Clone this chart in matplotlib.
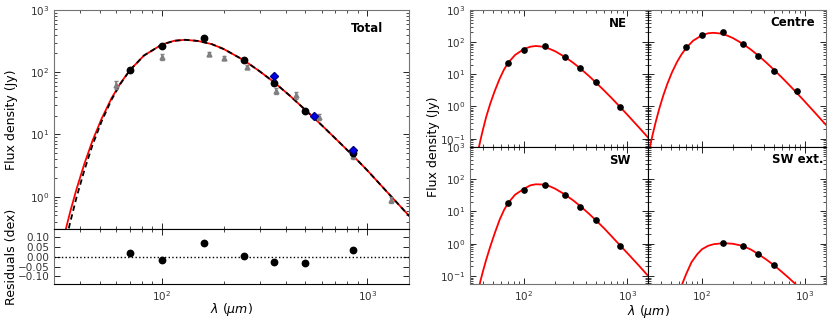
import matplotlib
matplotlib.use("Agg")
import matplotlib.pyplot as plt

# ---------------- data ----------------
# Total panel: this work (black), literature (grey), alternative (blue)
tot_wl = [70, 100, 160, 250, 350, 500, 850]
tot_flux = [110, 264, 350, 157, 66, 24, 5.0]
tot_err = [6, 13, 18, 8, 4, 1.5, 0.4]
tot_resid = [0.020, -0.018, 0.069, 0.003, -0.025, -0.030, 0.037]

lit_wl = [60, 100, 170, 200, 260, 360, 450, 580, 850, 1300]
lit_flux = [62, 178, 196, 167, 123, 50, 43, 19.3, 4.5, 0.88]
lit_err = [9, 18, 14, 12, 9, 5, 6, 2, 0.5, 0.1]

alt_wl = [350, 550, 850]
alt_flux = [86, 20, 5.7]

# model curves for the Total panel
tot_model_wl = [33, 34.3, 36, 38.5, 42, 46, 51, 57, 63, 70, 82, 100, 115, 130, 150,
                175, 200, 250, 300, 350, 420, 500, 600, 700, 850, 1000, 1300, 1600]
tot_model_red = [0.189, 0.321, 0.602, 1.33, 3.36, 7.91, 18.0, 38.4, 66.8, 108, 186, 278,
                 320, 332, 318, 283, 236, 157, 103, 70, 42, 24.7, 14.1, 8.6, 4.6, 2.65,
                 1.03, 0.49]
tot_model_black = [0.117, 0.209, 0.409, 0.98, 2.65, 6.72, 16.3, 36.3, 65.5, 108, 186, 278,
                   320, 332, 318, 283, 236, 157, 103, 70, 42, 24.7, 14.1, 8.6, 4.6, 2.65,
                   1.03, 0.49]

# regional panels
reg_wl = [70, 100, 160, 250, 350, 500, 850]
ne_flux = [23, 55, 77, 35, 15.5, 5.8, 0.96]
centre_flux = [69, 167, 212, 90, 38, 13, 2.96]
centre_err = [4, 9, 11, 5, 2, 0.8, 0.45]
sw_flux = [18.2, 47.5, 66, 32.3, 14.1, 5.3, 0.84]
swext_wl = [160, 250, 350, 500]
swext_flux = [1.04, 0.87, 0.49, 0.223]

ne_model_wl = [34, 36, 38, 40, 43, 47, 52, 58, 64, 70, 82, 100, 115, 130, 150, 175, 200,
               250, 300, 350, 420, 500, 600, 700, 850, 1000, 1300, 1600]
ne_model = [0.018, 0.043, 0.095, 0.19, 0.47, 1.2, 3.0, 7.2, 14.0, 22.5, 40, 61, 72, 76,
            72.5, 62.7, 52.2, 34.4, 22.7, 15.3, 9.2, 5.46, 3.08, 1.87, 0.974, 0.557,
            0.222, 0.106]

centre_model_wl = [30, 31, 33, 35.5, 38.5, 42, 46, 51, 57, 63, 70, 82, 100, 115, 130, 150,
                   175, 200, 250, 300, 350, 420, 500, 600, 700, 850, 1000, 1300, 1600]
centre_model = [0.032, 0.0528, 0.130, 0.340, 0.887, 2.21, 5.08, 11.5, 23.9, 41.1, 65.9,
                111, 165, 189, 195, 186, 161, 134, 88.3, 58.2, 39.2, 23.6, 14.0, 7.91,
                4.79, 2.50, 1.43, 0.570, 0.272]

sw_model_wl = [36, 38, 40, 43, 47, 52, 58, 64, 70, 82, 100, 115, 130, 150, 175, 200, 250,
               300, 350, 420, 500, 600, 700, 850, 1000, 1300, 1600]
sw_model = [0.036, 0.075, 0.14, 0.32, 0.8, 2.1, 5.5, 11, 18, 33, 50, 64, 69, 68, 61, 50.5,
            33.1, 21.8, 14.7, 8.83, 5.24, 2.96, 1.75, 0.90, 0.52, 0.21, 0.10]

swext_model_wl = [60, 64, 70, 79, 90, 100, 115, 130, 150, 175, 200, 250, 300, 350, 420,
                  500, 600, 700, 850]
swext_model = [0.030, 0.056, 0.115, 0.27, 0.48, 0.68, 0.87, 0.97, 1.02, 1.03, 1.0, 0.86,
               0.66, 0.49, 0.33, 0.22, 0.135, 0.088, 0.050]

panel_names = ["NE", "Centre", "SW", "SW ext."]

# ---------------- style ----------------
plt.rcParams["font.family"] = ["DejaVu Sans"]
plt.rcParams["mathtext.fontset"] = "dejavusans"
TICK_FS = 7.5
LAB_FS = 9


def style_ax(ax):
    ax.tick_params(which="both", direction="in", top=True, right=True,
                   labelsize=TICK_FS, labelcolor="0.2")
    ax.tick_params(which="major", length=4, width=0.6)
    ax.tick_params(which="minor", length=2, width=0.5)
    for s in ax.spines.values():
        s.set_linewidth(0.8)
        s.set_color("0.45")


fig = plt.figure(figsize=(8.3, 3.19), dpi=100)

# ---------------- left: Total ----------------
axm = fig.add_axes([0.0654, 0.2812, 0.4277, 0.6875])
axr = fig.add_axes([0.0654, 0.1088, 0.4277, 0.1724], sharex=axm)

axm.plot(tot_model_wl, tot_model_red, color="red", lw=1.3, zorder=2)
axm.plot(tot_model_wl, tot_model_black, color="black", lw=1.3,
         ls=(0, (3, 2)), zorder=3)
axm.errorbar(lit_wl, lit_flux, yerr=lit_err, fmt="^", color="0.5", ms=3.5,
             mec="0.5", ecolor="0.5", elinewidth=1.2, capsize=1.5, zorder=4)
axm.errorbar(tot_wl, tot_flux, yerr=tot_err, fmt="o", color="black", ms=4.6,
             ecolor="black", elinewidth=0.8, capsize=0, zorder=5)
axm.plot(alt_wl, alt_flux, "D", color="#0000ee", mec="#000088", ms=3.8, zorder=6)

axm.set_xscale("log")
axm.set_yscale("log")
axm.set_xlim(30, 1600)
axm.set_ylim(0.3, 1000)
axm.set_ylabel("Flux density (Jy)", fontsize=LAB_FS)
axm.text(0.925, 0.945, "Total", transform=axm.transAxes, ha="right", va="top",
         fontsize=8.5, fontweight="bold")
style_ax(axm)
axm.tick_params(labelbottom=False)
axm.spines["bottom"].set_color("black")

axr.axhline(0, color="black", ls=":", lw=1.0)
axr.plot(tot_wl, tot_resid, "o", color="black", ms=4.6)
axr.set_ylim(-0.14, 0.14)
axr.set_yticks([-0.10, -0.05, 0.0, 0.05, 0.10])
axr.set_yticklabels(["\u22120.10", "\u22120.05", "0.00", "0.05", "0.10"])
axr.set_ylabel("Residuals (dex)", fontsize=LAB_FS)
axr.set_xlabel(r"$\lambda\ (\mu m)$", fontsize=LAB_FS)
style_ax(axr)
axr.spines["top"].set_color("black")
axr.spines["bottom"].set_color("black")
axm.yaxis.set_label_coords(-0.102, 0.5)
axr.yaxis.set_label_coords(-0.102, 0.5)
axr.xaxis.set_label_coords(0.5, -0.31)

# ---------------- right: 2x2 regions ----------------
x0, xm, x1 = 0.5663, 0.7811, 0.9948
yb, ym, yt = 0.1088, 0.5401, 0.9687
w = xm - x0
pos = [[x0, ym, w, yt - ym], [xm, ym, x1 - xm, yt - ym],
       [x0, yb, w, ym - yb], [xm, yb, x1 - xm, ym - yb]]

axes = []
for i, p in enumerate(pos):
    if i == 0:
        ax = fig.add_axes(p)
    else:
        ax = fig.add_axes(p, sharex=axes[0], sharey=axes[0])
    axes.append(ax)

models = [(ne_model_wl, ne_model), (centre_model_wl, centre_model),
          (sw_model_wl, sw_model), (swext_model_wl, swext_model)]
points = [(reg_wl, ne_flux, [0.1 * v for v in ne_flux]),
          (reg_wl, centre_flux, centre_err),
          (reg_wl, sw_flux, [0.1 * v for v in sw_flux]),
          (swext_wl, swext_flux, [0.1 * v for v in swext_flux])]
label_pos = [(0.879, 0.951), (0.938, 0.956), (0.90, 0.945), (0.985, 0.952)]

for i, ax in enumerate(axes):
    mw, mf = models[i]
    ax.plot(mw, mf, color="red", lw=1.3, zorder=2)
    pw, pf, pe = points[i]
    ax.errorbar(pw, pf, yerr=pe, fmt="o", color="black", ms=3.8, ecolor="black",
                elinewidth=0.8, capsize=0, zorder=3)
    ax.set_xscale("log")
    ax.set_yscale("log")
    ax.set_xlim(30, 1600)
    ax.set_ylim(0.056, 1000)
    ax.text(label_pos[i][0], label_pos[i][1], panel_names[i], transform=ax.transAxes,
            ha="right", va="top", fontsize=8.5, fontweight="bold")
    style_ax(ax)
    if i in (0, 1):
        ax.tick_params(labelbottom=False)
        ax.spines["bottom"].set_color("black")
    else:
        ax.spines["top"].set_color("black")
    if i in (1, 3):
        ax.tick_params(labelleft=False)
        ax.spines["left"].set_color("black")
    else:
        ax.spines["right"].set_color("black")

fig.text(0.5225, (yb + yt) / 2, "Flux density (Jy)", rotation=90, ha="center",
         va="center", fontsize=LAB_FS)
fig.text(xm, 0.024, r"$\lambda\ (\mu m)$", ha="center", va="center", fontsize=LAB_FS)

fig.savefig("out.png", dpi=100)
